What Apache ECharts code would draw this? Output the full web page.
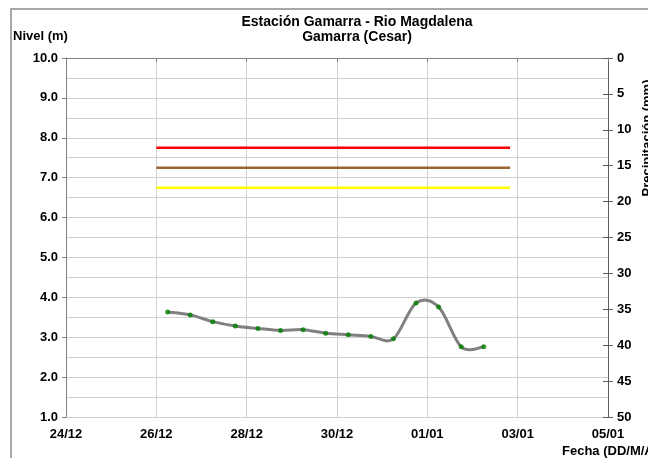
<!DOCTYPE html>
<html><head><meta charset="utf-8">
<script src="https://cdn.jsdelivr.net/npm/echarts@6/dist/echarts.min.js"></script>
<style>html,body{margin:0;padding:0;background:#fff}#c{width:648px;height:458px}</style>
</head><body><div id="c"></div>
<script>
// Data
const times = ['2023-12-26 06:00','2023-12-26 18:00','2023-12-27 06:00','2023-12-27 18:00','2023-12-28 06:00','2023-12-28 18:00','2023-12-29 06:00','2023-12-29 18:00','2023-12-30 06:00','2023-12-30 18:00','2023-12-31 06:00','2023-12-31 18:00','2024-01-01 06:00','2024-01-01 18:00','2024-01-02 06:00'];
const nivel = [3.63,3.56,3.39,3.28,3.22,3.17,3.19,3.10,3.06,3.02,2.96,3.86,3.76,2.76,2.76];
const thresholdTimes = ['2023-12-26 00:00','2024-01-02 20:00'];
const thresholdRed = 7.75;
const thresholdBrown = 7.25;
const thresholdYellow = 6.75;
const xMin = '2023-12-24 00:00', xMax = '2024-01-05 00:00';
const yTicksLeft = [1,10];
const yTicksRight = [0,50];

function ts(s){const [d,t]=s.split(' ');const [Y,M,D]=d.split('-').map(Number);const [h,m]=t.split(':').map(Number);return Date.UTC(Y,M-1,D,h,m);}
const DAY=86400000;
const font='"Liberation Sans", Arial, sans-serif';
const lbl={color:'#000',fontWeight:'bold',fontSize:13,fontFamily:font};
function thr(v){return thresholdTimes.map(t=>[ts(t),v]);}
const pts=times.map((t,i)=>[ts(t),nivel[i]]);

// Excel-like Catmull-Rom smoothing drawn from axis coordinates
function renderCurve(params,api){
  if(params.dataIndex!==0) return;
  const P=pts.map(p=>api.coord(p));
  const n=P.length;
  let d='M'+P[0][0]+' '+P[0][1];
  for(let i=0;i<n-1;i++){
    const p0=P[i-1]||P[i], p1=P[i], p2=P[i+1], p3=P[i+2]||P[i+1];
    const c1=[p1[0]+(p2[0]-p0[0])/6, p1[1]+(p2[1]-p0[1])/6];
    const c2=[p2[0]-(p3[0]-p1[0])/6, p2[1]-(p3[1]-p1[1])/6];
    d+=' C'+c1[0]+' '+c1[1]+' '+c2[0]+' '+c2[1]+' '+p2[0]+' '+p2[1];
  }
  return {type:'path',shape:{pathData:d},style:{fill:'none',stroke:'#808080',lineWidth:3}};
}

const chart=echarts.init(document.getElementById('c'),null,{renderer:'canvas'});
chart.setOption({
  animation:false,
  backgroundColor:'#fff',
  title:{text:'Estación Gamarra - Rio Magdalena\nGamarra (Cesar)',left:352,top:10,textAlign:'center',
    textStyle:{fontSize:14,fontWeight:'bold',lineHeight:15,fontFamily:font,color:'#000'}},
  grid:{left:66,right:40,top:58,bottom:41,containLabel:false},
  xAxis:{type:'value',min:ts(xMin),max:ts(xMax),interval:2*DAY,
    axisLine:{show:true,lineStyle:{color:'#808080',width:1}},
    axisTick:{show:true,length:4,lineStyle:{color:'#808080'}},
    splitLine:{show:true,lineStyle:{color:'#d0d0d0',width:1}},
    axisLabel:Object.assign({margin:11,formatter:v=>{const d=new Date(v);return String(d.getUTCDate()).padStart(2,'0')+'/'+String(d.getUTCMonth()+1).padStart(2,'0');}},lbl)},
  yAxis:[
    {type:'value',min:yTicksLeft[0],max:yTicksLeft[1],interval:1,position:'left',
      axisLine:{show:true,lineStyle:{color:'#808080'}},
      axisTick:{show:true,length:4,lineStyle:{color:'#808080'}},
      splitLine:{show:true,lineStyle:{color:'#d0d0d0'}},
      minorTick:{show:false,splitNumber:2},
      minorSplitLine:{show:true,lineStyle:{color:'#d0d0d0'}},
      axisLabel:Object.assign({margin:8,formatter:v=>v.toFixed(1)},lbl)},
    {type:'value',min:yTicksRight[0],max:yTicksRight[1],interval:5,inverse:true,position:'right',
      axisLine:{show:true,lineStyle:{color:'#606060'}},
      axisTick:{show:true,length:5,lineStyle:{color:'#606060'}},
      splitLine:{show:false},
      axisLabel:Object.assign({margin:9},lbl)},
    {type:'value',min:yTicksRight[0],max:yTicksRight[1],interval:5,inverse:true,position:'right',
      axisLine:{show:false},
      axisTick:{show:true,inside:true,length:5,lineStyle:{color:'#606060'}},
      splitLine:{show:false},axisLabel:{show:false}}
  ],
  graphic:[
    {type:'rect',shape:{x:11,y:9,width:700,height:500},style:{fill:'none',stroke:'#8c8c8c',lineWidth:1.5},z:-1},
    {type:'text',x:13,y:36,style:{text:'Nivel (m)',font:'bold 13px '+font,fill:'#000',verticalAlign:'middle'}},
    {type:'text',x:562,y:451,style:{text:'Fecha (DD/M/AA)',font:'bold 13px '+font,fill:'#000',verticalAlign:'middle'}},
    {type:'text',x:641,y:138,rotation:Math.PI/2,style:{text:'Precipitación (mm)',font:'bold 13px '+font,fill:'#000',align:'center',verticalAlign:'top'}}
  ],
  series:[
    {type:'line',data:thr(thresholdRed),yAxisIndex:0,symbol:'none',lineStyle:{color:'#ff0000',width:2.5},z:2},
    {type:'line',data:thr(thresholdBrown),yAxisIndex:0,symbol:'none',lineStyle:{color:'#996633',width:2.5},z:2},
    {type:'line',data:thr(thresholdYellow),yAxisIndex:0,symbol:'none',lineStyle:{color:'#ffff00',width:2.5},z:2},
    {type:'custom',data:pts,yAxisIndex:0,renderItem:renderCurve,z:3,silent:true},
    {type:'scatter',data:pts,yAxisIndex:0,symbol:'circle',symbolSize:5,itemStyle:{color:'#008000'},z:4}
  ]
});
</script></body></html>
